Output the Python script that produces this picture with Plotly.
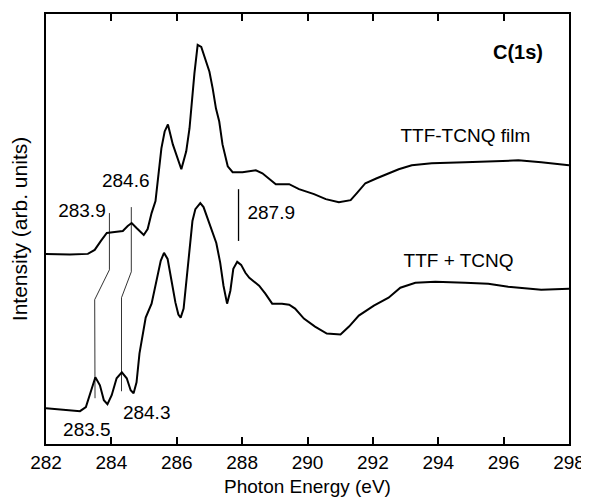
import plotly.graph_objects as go

FONT = "Liberation Sans, Arial, sans-serif"

# TTF-TCNQ film spectrum (photon energy in eV, intensity in arb. units)
film_energy = [282.00, 282.73, 283.28, 283.49, 283.68, 283.86, 284.10, 284.35, 284.50, 284.62,
               284.77, 284.99, 285.11, 285.23, 285.35, 285.53, 285.63, 285.73, 285.88, 286.14,
               286.29, 286.39, 286.54, 286.64, 286.75, 286.85, 287.00, 287.10, 287.20, 287.30,
               287.40, 287.56, 287.71, 288.01, 288.42, 288.62, 288.83, 289.03, 289.44, 289.74,
               290.20, 290.56, 290.96, 291.32, 291.51, 291.77, 292.12, 292.48, 292.79, 293.19,
               293.80, 294.82, 295.62, 296.45, 297.15, 297.67, 298.00]
film_intensity = [191, 190.5, 191, 195, 204, 212, 213, 214, 219, 222,
                  217, 210, 216, 232, 244, 297, 314, 321, 301, 276,
                  294, 317, 372, 401, 399, 389, 374, 357, 337, 324,
                  301, 279, 273, 273, 275, 272, 266, 261, 261, 256,
                  251, 246, 243, 245, 252, 262, 267, 272, 276, 280,
                  282, 283, 284, 285, 283, 281, 280]

# TTF + TCNQ spectrum
mix_energy = [282.00, 282.43, 283.04, 283.22, 283.34, 283.51, 283.65, 283.77, 283.88, 284.01,
              284.16, 284.32, 284.47, 284.59, 284.68, 284.77, 284.86, 285.05, 285.23, 285.41,
              285.51, 285.61, 285.72, 285.84, 285.96, 286.05, 286.12, 286.21, 286.30, 286.39,
              286.48, 286.57, 286.72, 286.82, 287.00, 287.09, 287.21, 287.33, 287.43, 287.54,
              287.64, 287.73, 287.85, 287.97, 288.10, 288.22, 288.37, 288.52, 288.71, 288.92,
              289.22, 289.44, 289.62, 289.89, 290.23, 290.59, 291.01, 291.27, 291.57, 292.03,
              292.48, 292.84, 293.30, 293.91, 294.82, 295.53, 296.14, 297.15, 298.00]
mix_intensity = [36, 35, 33, 37, 49, 67, 59, 44, 40, 49,
                 66, 72, 66, 54, 51, 62, 91, 127, 141, 167,
                 184, 192, 186, 164, 142, 130, 127, 136, 164, 197,
                 224, 236, 242, 238, 221, 214, 202, 182, 159, 141,
                 154, 176, 183, 180, 172, 167, 163, 159, 151, 141,
                 141, 140, 136, 126, 118, 111, 110, 118, 129, 139,
                 147, 157, 162, 163, 162, 161, 158, 155, 156]

# Guide lines linking peak positions
guide_a_x = [283.94, 283.94, 283.49, 283.50]
guide_a_y = [232, 175, 145, 46]
guide_b_x = [284.61, 284.61, 284.31, 284.31]
guide_b_y = [238, 173, 147, 53]
marker_2879_x = [287.89, 287.89]
marker_2879_y = [256, 204]

# Text labels
label_text = ["283.9", "284.6", "284.3", "283.5", "287.9", "TTF-TCNQ film", "TTF + TCNQ"]
label_x = [283.10, 284.44, 285.08, 283.25, 288.89, 294.83, 294.62]
label_y = [233, 263, 30, 13, 231, 308, 183]
title_text = ["<b>C(1s)</b>"]
title_x = [296.44]
title_y = [392]

x_tick_start = 282
x_tick_step = 2

fig = go.Figure()
fig.add_trace(go.Scatter(x=film_energy, y=film_intensity, mode="lines",
                         line=dict(color="black", width=2),
                         name="TTF-TCNQ film", showlegend=False))
fig.add_trace(go.Scatter(x=mix_energy, y=mix_intensity, mode="lines",
                         line=dict(color="black", width=2),
                         name="TTF + TCNQ", showlegend=False))
for gx, gy, w in [(guide_a_x, guide_a_y, 0.8), (guide_b_x, guide_b_y, 0.8),
                  (marker_2879_x, marker_2879_y, 1.3)]:
    fig.add_trace(go.Scatter(x=gx, y=gy, mode="lines", line=dict(color="black", width=w),
                             showlegend=False, hoverinfo="skip"))
fig.add_trace(go.Scatter(x=label_x, y=label_y, text=label_text, mode="text",
                         textposition="middle center", cliponaxis=False,
                         textfont=dict(family=FONT, size=19, color="black"),
                         showlegend=False, hoverinfo="skip"))
fig.add_trace(go.Scatter(x=title_x, y=title_y, text=title_text, mode="text",
                         textposition="middle center", cliponaxis=False,
                         textfont=dict(family=FONT, size=20, color="black"),
                         showlegend=False, hoverinfo="skip"))

# page body has an 8px default margin: size/margins compensate for it
fig.update_layout(
    template="simple_white",
    width=581, height=494,
    margin=dict(l=38, r=18, t=4, b=58),
    xaxis=dict(range=[282, 298], tick0=x_tick_start, dtick=x_tick_step,
               ticks="inside", ticklen=7, tickwidth=1.5, tickcolor="black",
               showline=True, linecolor="black", linewidth=2, mirror="ticks",
               showgrid=False, zeroline=False,
               title=dict(text="Photon Energy (eV)", standoff=8,
                          font=dict(family=FONT, size=19, color="black")),
               tickfont=dict(family=FONT, size=19, color="black")),
    yaxis=dict(range=[0, 432], showticklabels=False, ticks="", showline=True,
               linecolor="black", linewidth=2, mirror=True, showgrid=False, zeroline=False,
               title=dict(text="Intensity (arb. units)", standoff=12,
                          font=dict(family=FONT, size=21, color="black"))),
)

fig.write_html("out.html")
